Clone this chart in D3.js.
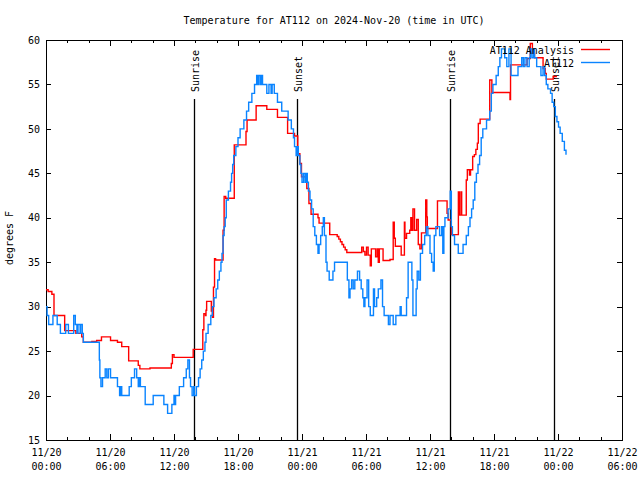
<!DOCTYPE html>
<html><head><meta charset="utf-8">
<script src="https://cdn.jsdelivr.net/npm/d3@7"></script>
<style>
body{margin:0;background:#fff}
svg text{font-family:"DejaVu Sans Mono","Liberation Mono",monospace;font-size:10px;fill:#000}
</style></head><body>
<svg id="c" width="640" height="480"></svg>
<script>
// ---------- data ----------
const titleText = "Temperature for AT112 on 2024-Nov-20 (time in UTC)";
const yLabelText = "degrees F";
const startUTC = "2024-11-20T00:00:00Z";
const spanHours = 54;
const yTicks = [15,20,25,30,35,40,45,50,55,60];
const xMajorHours = [0,6,12,18,24,30,36,42,48,54];
const xMinorHours = [2,4,8,10,14,16,20,22,26,28,32,34,38,40,44,46,50,52];
const legendNames = ["AT112 Analysis","AT112"];
const sunLabels = ["Sunrise","Sunset","Sunrise","Sunset"];
const sunHours  = [13.9, 23.56, 37.92, 47.58];

// observations (hours since start, deg F)
const obsHours = [0.0,0.1,0.25,0.65,1.05,1.35,1.85,2.1,2.6,2.75,2.9,3.0,3.2,3.25,3.4,3.5,5.0,5.05,5.15,5.3,5.55,5.7,5.85,6.05,6.7,6.9,7.0,7.1,7.8,8.0,8.3,8.5,8.65,8.75,8.85,9.3,10.05,11.05,11.4,11.8,12.0,12.1,12.15,12.5,12.9,13.15,13.3,13.45,13.55,13.7,13.85,13.9,14.1,14.3,14.45,14.6,14.75,14.9,15.0,15.2,15.45,15.6,15.75,15.95,16.1,16.25,16.4,16.5,16.6,16.7,16.8,16.9,17.1,17.3,17.4,17.5,17.6,17.8,18.0,18.2,18.55,18.8,19.0,19.3,19.55,19.75,19.85,19.95,20.1,20.2,20.3,20.7,20.9,21.1,21.2,21.4,21.7,22.1,22.7,23.0,23.2,23.3,23.45,23.55,23.65,23.8,23.9,24.0,24.15,24.3,24.4,24.5,24.6,24.75,24.9,25.05,25.2,25.35,25.5,25.6,25.75,25.9,26.0,26.1,26.25,26.35,26.55,26.9,27.05,28.25,28.4,28.5,28.65,28.8,28.95,29.2,29.4,29.55,29.7,29.8,29.9,30.1,30.25,30.4,30.7,30.8,31.0,31.15,31.4,31.55,31.7,32.1,32.25,32.55,32.8,33.2,33.3,33.8,33.95,34.3,34.4,34.7,34.8,34.95,35.1,35.3,35.5,35.65,35.8,36.0,36.15,36.3,36.4,36.55,36.9,37.1,37.2,37.3,37.4,37.7,37.9,38.0,38.1,38.3,38.65,39.1,39.4,39.6,39.75,39.9,40.05,40.2,40.35,40.5,40.65,40.8,40.95,41.3,41.6,41.75,41.9,42.2,42.4,42.55,42.7,43.0,43.2,43.4,43.6,44.25,44.6,44.75,44.9,45.1,45.3,45.4,45.55,45.7,45.8,46.0,46.4,46.6,46.75,46.9,47.05,47.3,47.45,47.6,47.75,47.9,48.05,48.2,48.4,48.6,48.75];
const obsTemps = [30,29,28,29,28,27,28,27,29,28,27,28,27,28,27,26,24,22,21,22,23,22,23,22,21,20,21,20,21,22,23,22,21,22,21,19,20,19,18,19,20,19,20,21,22,23,24,22,21,20,21,20,21,22,23,24,25,26,27,28,29,30,31,32,33,34,35,36,38,39,40,42,43,44,45,46,47,48,49,50,51,52,53,54,55,56,55,56,55,56,55,54,55,54,55,54,53,52,51,50,49,48,47,48,47,46,45,44,45,44,45,44,43,42,41,39,38,37,36,37,38,39,40,38,35,34,33,34,35,33,31,32,33,32,33,34,33,32,31,30,31,33,30,29,32,30,31,32,33,30,29,28,29,28,29,30,29,31,35,33,29,32,34,33,36,37,38,39,38,36,35,34,38,39,38,39,36,39,40,41,43,39,38,37,36,37,38,39,40,41,42,44,45,46,47,49,50,51,52,54,55,56,57,58,59,58,57,59,56,57,58,57,58,57,58,59,58,59,58,57,56,57,56,55,54.5,54,53,52.5,51.4,50.8,50.2,49.5,48.6,47.6,47.1];

// analysis (hours since start, deg F)
const anaHours = [0.0,0.2,0.55,0.75,1.75,2.8,3.35,3.5,4.3,4.75,5.2,6.05,6.7,7.1,7.75,8.65,8.8,9.75,11.75,11.85,12.0,13.8,14.7,14.8,14.95,15.0,15.06,15.5,15.6,15.7,15.8,15.9,16.6,16.7,16.85,17.65,18.75,18.85,19.7,20.7,21.7,22.65,23.3,23.6,23.8,23.95,24.45,24.65,24.85,25.5,25.6,26.6,27.3,27.45,27.6,27.75,27.9,28.05,28.2,29.6,29.75,29.9,30.05,30.2,30.4,30.5,30.9,31.05,31.15,31.25,31.6,32.25,32.55,32.65,32.75,33.3,33.6,33.65,33.8,34.1,34.2,34.3,34.4,34.55,34.75,34.9,35.05,35.2,35.6,35.7,35.75,36.7,37.6,37.7,38.0,38.66,38.75,38.9,38.97,39.4,39.5,39.7,39.8,40.0,40.16,40.3,40.44,40.53,40.7,41.6,41.8,43.5,43.55,45.1,45.4,45.6,45.8,46.6,46.8,46.9,47.55,47.9];
const anaTemps = [31.9,31.7,31.4,29.0,27.3,27.0,26.6,26.0,26.1,26.2,26.6,26.2,26.0,25.5,23.9,23.4,23.0,23.1,23.6,24.6,24.3,25.2,27.4,29.2,29.0,29.6,30.6,29.5,28.8,32.2,35.4,35.25,38.6,42.4,42.2,48.2,49.7,51.0,52.6,52.2,51.3,49.5,49.2,47.2,46.1,44.6,43.3,41.6,40.4,40.0,39.4,38.1,37.9,37.6,37.3,37.0,36.7,36.4,36.1,36.7,36.2,35.8,36.7,35.8,34.6,36.5,35.6,36.5,35.0,36.5,35.2,35.3,39.5,37.7,36.8,35.8,39.5,37.7,38.25,38.6,40.0,38.6,41.0,38.6,39.8,37.0,36.5,38.3,42.0,40.1,38.8,41.9,40.5,39.75,38.1,42.9,40.3,42.9,40.3,44.25,45.4,44.8,45.4,46.9,47.1,47.7,48.4,50.6,51.1,55.5,54.1,53.3,57.2,57.9,59.6,58.5,58.0,56.8,56.25,55.6,55.9,55.9];

// ---------- chart ----------
const svg = d3.select("#c");
const L = 46, R = 622, T = 40, B = 440;
const t0 = new Date(startUTC).getTime();
const toDate = h => new Date(t0 + h * 3600000);
const x = d3.scaleUtc().domain([toDate(0), toDate(spanHours)]).range([L, R]);
const y = d3.scaleLinear().domain([15, 60]).range([B, T]);

const fmtD = d3.utcFormat("%m/%d"), fmtT = d3.utcFormat("%H:%M");

// axes
const ax = svg.append("g").attr("shape-rendering","crispEdges");
const gB = ax.append("g").attr("transform",`translate(0,${B})`)
  .call(d3.axisBottom(x).tickValues(xMajorHours.map(toDate)).tickSizeInner(-6).tickSizeOuter(0).tickFormat(""));
ax.append("g").attr("transform",`translate(0,${B})`)
  .call(d3.axisBottom(x).tickValues(xMinorHours.map(toDate)).tickSizeInner(-3).tickSizeOuter(0).tickFormat(""));
ax.append("g").attr("transform",`translate(0,${T})`)
  .call(d3.axisTop(x).tickValues(xMajorHours.map(toDate)).tickSizeInner(-6).tickSizeOuter(0).tickFormat(""));
ax.append("g").attr("transform",`translate(0,${T})`)
  .call(d3.axisTop(x).tickValues(xMinorHours.map(toDate)).tickSizeInner(-3).tickSizeOuter(0).tickFormat(""));
ax.append("g").attr("transform",`translate(${L},0)`)
  .call(d3.axisLeft(y).tickValues(yTicks).tickSizeInner(-5).tickSizeOuter(0).tickPadding(6).tickFormat(d3.format("d")));
ax.append("g").attr("transform",`translate(${R},0)`)
  .call(d3.axisRight(y).tickValues(yTicks).tickSizeInner(-5).tickSizeOuter(0).tickFormat(""));
ax.selectAll(".domain").remove();
ax.selectAll(".tick line").attr("stroke","#000");
ax.selectAll(".tick text").attr("fill","#000").attr("font-size",null).attr("font-family",null);

// two-line x labels
gB.selectAll(".tick").each(function(d){
  const g = d3.select(this);
  g.append("text").attr("text-anchor","middle").attr("y",16).text(fmtD(d));
  g.append("text").attr("text-anchor","middle").attr("y",30).text(fmtT(d));
});

// border
ax.append("rect").attr("x",L).attr("y",T).attr("width",R-L).attr("height",B-T)
  .attr("fill","none").attr("stroke","#000").attr("stroke-width",1);

// title and y label
svg.append("text").attr("x",(L+R)/2).attr("y",24).attr("text-anchor","middle").text(titleText);
svg.append("text").attr("transform","translate(13,238) rotate(-90)").attr("text-anchor","middle").text(yLabelText);

// sunrise / sunset markers
sunHours.forEach((h,i)=>{
  const sx = Math.round(x(toDate(h))) + 0.5;
  svg.append("line").attr("x1",sx).attr("x2",sx).attr("y1",B).attr("y2",T+59)
    .attr("stroke","#000").attr("stroke-width",1.3);
  svg.append("text").attr("transform",`translate(${sx+4.5},${T+52}) rotate(-90)`)
    .attr("text-anchor","start").text(sunLabels[i]);
});

// series
const line = d3.line().curve(d3.curveStepAfter).x(d=>x(toDate(d[0]))).y(d=>y(d[1]));
const ana = anaHours.map((h,i)=>[h, anaTemps[i]]);
const obs = obsHours.map((h,i)=>[h, obsTemps[i]]);
const colors = ["#ff0000","#0a84ff"];
svg.append("path").datum(ana).attr("d",line).attr("fill","none").attr("stroke",colors[0]).attr("stroke-width",1.4);
svg.append("path").datum(obs).attr("d",line).attr("fill","none").attr("stroke",colors[1]).attr("stroke-width",1.4);

// legend
legendNames.forEach((n,i)=>{
  const ly = 49.5 + i*13;
  svg.append("text").attr("x",574).attr("y",ly+4).attr("text-anchor","end").text(n);
  svg.append("line").attr("x1",581).attr("x2",610).attr("y1",ly).attr("y2",ly)
    .attr("stroke",colors[i]).attr("stroke-width",1.4);
});
</script>
</body></html>
